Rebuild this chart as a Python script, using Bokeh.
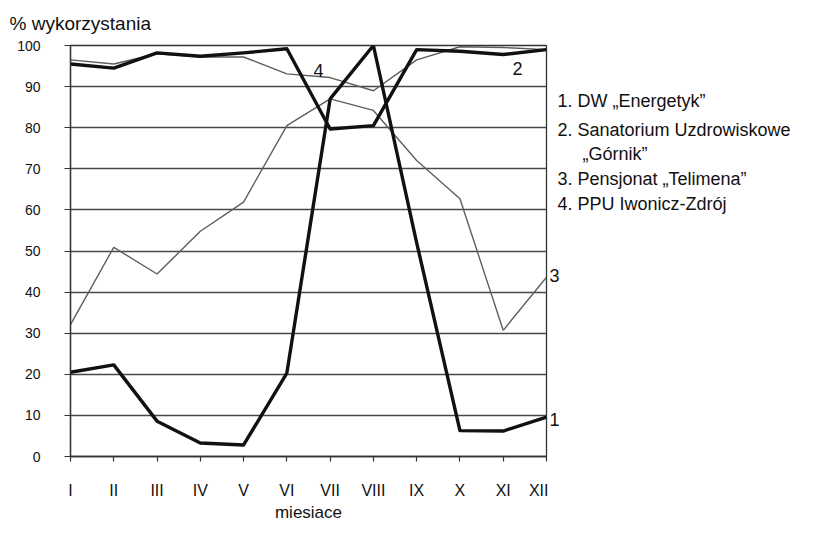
from bokeh.plotting import figure
from bokeh.models import Range1d, FixedTicker, Label, Title
from bokeh.layouts import row, column
from bokeh.core.properties import value
from bokeh.embed import file_html
from bokeh.resources import INLINE

months = ["I", "II", "III", "IV", "V", "VI", "VII", "VIII", "IX", "X", "XI", "XII"]
dw_energetyk = [20.5, 22.3, 8.6, 3.3, 2.8, 20.3, 87.0, 100.0, 52.0, 6.3, 6.2, 9.6]
sanatorium_gornik = [96.5, 95.5, 98.0, 97.2, 97.2, 93.1, 92.2, 89.0, 96.5, 99.7, 99.5, 99.0]
telimena = [32.1, 50.9, 44.4, 54.8, 61.9, 80.5, 87.0, 84.2, 72.0, 62.7, 30.7, 43.6]
ppu_iwonicz = [95.5, 94.5, 98.2, 97.4, 98.2, 99.2, 79.7, 80.5, 99.0, 98.6, 97.8, 99.0]
y_ticks = [0, 10, 20, 30, 40, 50, 60, 70, 80, 90, 100]
legend_lines = ["1. DW \u201eEnergetyk\u201d", "2. Sanatorium Uzdrowiskowe",
                "\u201eG\u00f3rnik\u201d", "3. Pensjonat \u201eTelimena\u201d",
                "4. PPU Iwonicz-Zdr\u00f3j"]
y_title = "% wykorzystania"
x_title = "miesiace"

FONT = "Liberation Sans"
TOTAL_W, TOTAL_H = 811, 527
LEFT_W = 548          # width of the chart figure
FL, FT, FW, FH = 70, 45, 476, 411  # frame inside main figure
SIDE_W = TOTAL_W - LEFT_W

xs = list(range(len(months)))

# ---- main chart ----
p = figure(width=LEFT_W, height=TOTAL_H, output_backend="svg", toolbar_location=None,
           x_range=Range1d(0, len(months) - 1), y_range=Range1d(0, 100),
           min_border_left=FL, min_border_top=FT,
           min_border_right=LEFT_W - FL - FW, min_border_bottom=TOTAL_H - FT - FH)
p.background_fill_color = "white"
p.border_fill_color = "white"
p.outline_line_color = "#333333"
p.outline_line_width = 1.3

p.add_layout(Title(text=y_title, align="left", offset=9 - FL, vertical_align="top",
                   standoff=19, text_font=FONT, text_font_size="19px",
                   text_font_style="normal", text_color="#111111"), "above")

p.xgrid.visible = False
p.ygrid.ticker = FixedTicker(ticks=y_ticks)
p.ygrid.grid_line_color = "#484848"
p.ygrid.grid_line_width = 1.3

p.xaxis.ticker = FixedTicker(ticks=xs)
p.xaxis.major_label_overrides = {i: m for i, m in enumerate(months)}
p.yaxis.ticker = FixedTicker(ticks=y_ticks)
for ax in (p.xaxis, p.yaxis):
    ax.axis_line_color = "#333333"
    ax.axis_line_width = 1.3
    ax.major_tick_line_color = "#333333"
    ax.major_tick_line_width = 1.2
    ax.major_tick_in = 0
    ax.minor_tick_line_color = None
    ax.major_label_text_font = FONT
    ax.major_label_text_color = "#111111"
p.xaxis.major_tick_out = 5
p.yaxis.major_tick_out = 6
p.xaxis.major_label_text_font_size = "16px"
p.yaxis.major_label_text_font_size = "14px"
p.xaxis.major_label_standoff = 20
p.yaxis.major_label_standoff = 24
p.xaxis.axis_label = x_title
p.xaxis.axis_label_text_font = FONT
p.xaxis.axis_label_text_font_size = "17px"
p.xaxis.axis_label_text_font_style = "normal"
p.xaxis.axis_label_text_color = "#111111"
p.xaxis.axis_label_standoff = 1

# thin grey series
p.line(xs, sanatorium_gornik, line_color="#5e5e5e", line_width=1.4)
p.line(xs, telimena, line_color="#5e5e5e", line_width=1.4)
# thick black series
p.line(xs, ppu_iwonicz, line_color="#111111", line_width=3.4, line_join="round")
p.line(xs, dw_energetyk, line_color="#111111", line_width=3.4, line_join="round")


def page_to_data(px, py):
    fx = px - FL
    fy = py - FT
    return fx / FW * (len(months) - 1), 100 - fy / FH * 100


for t, (lx, ly) in [("4", (318, 70)), ("2", (517, 68))]:
    x, y = page_to_data(lx, ly)
    p.add_layout(Label(x=x, y=y, text=t, text_font=FONT, text_font_size="18px",
                       text_align="center", text_baseline="middle", text_color="#111111"))

# ---- side panel: series numbers at line ends + legend text ----
side = figure(width=SIDE_W, height=TOTAL_H, output_backend="svg", toolbar_location=None,
              x_range=Range1d(0, SIDE_W), y_range=Range1d(TOTAL_H, 0),
              x_axis_location=None, y_axis_location=None, min_border=0)
side.xgrid.visible = False
side.ygrid.visible = False
side.outline_line_color = None
side.background_fill_color = "white"
side.border_fill_color = "white"

side.text(x=[1, 1], y=[275, 419], text=["3", "1"], text_font=value(FONT),
          text_font_size="18px", text_align="left", text_baseline="middle",
          text_color="#111111")
legend_x = [9, 9, 34, 9, 9]
legend_y = [100, 129, 153, 178, 203]
side.text(x=legend_x, y=legend_y, text=legend_lines, text_font=value(FONT),
          text_font_size="18px", text_align="left", text_baseline="middle",
          text_color="#111111")

layout = row(column(p, spacing=0), column(side, spacing=0), spacing=0)
open("out.html", "w").write(file_html(layout, INLINE))
